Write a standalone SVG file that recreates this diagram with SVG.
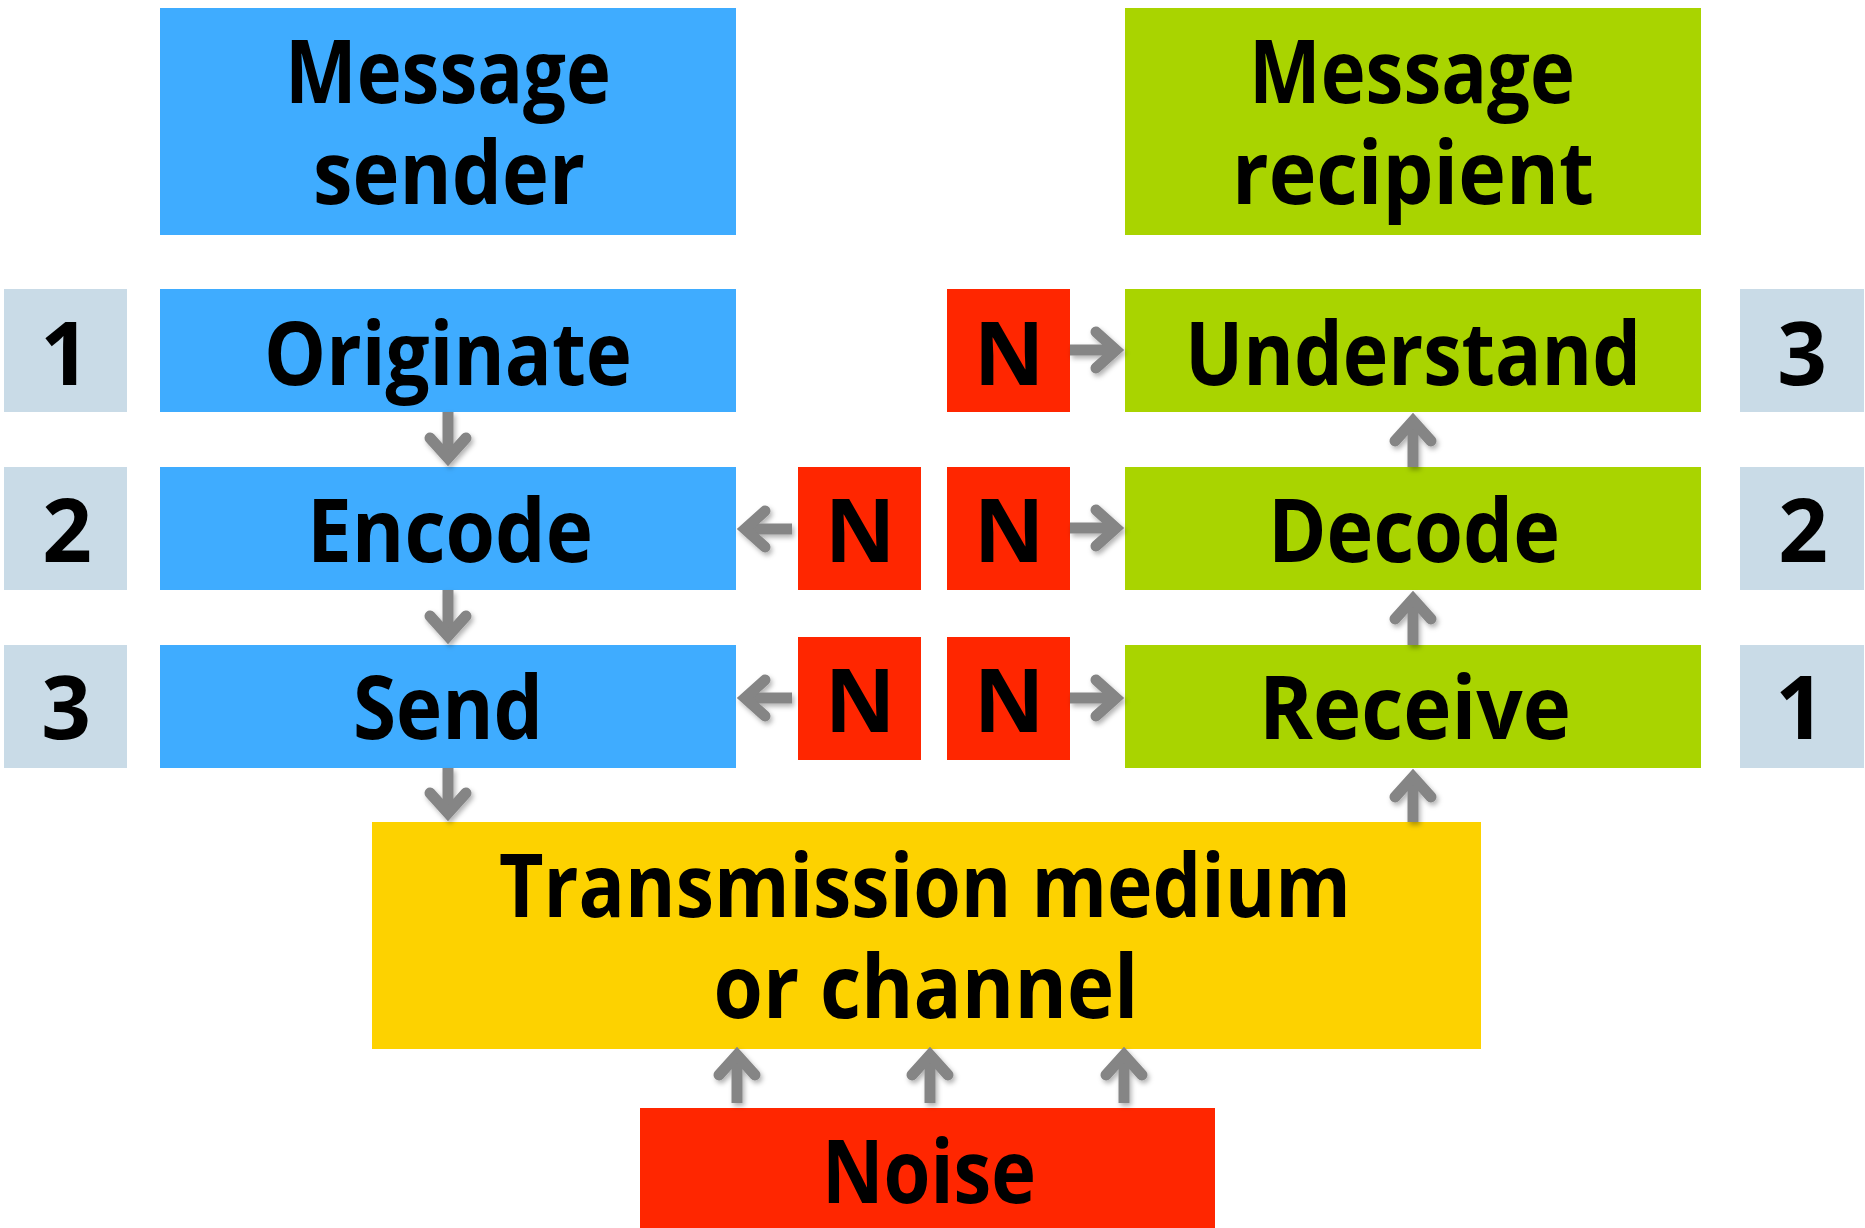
<svg xmlns="http://www.w3.org/2000/svg" width="1865" height="1228" viewBox="0 0 1865 1228">
<style>
.t{font-family:"Open Sans","Noto Sans","DejaVu Sans",sans-serif;font-weight:700;font-size:87px;text-anchor:middle;fill:#000}
.blue{fill:#3FACFF}.green{fill:#A9D400}.red{fill:#FF2600}.yellow{fill:#FDD200}.num{fill:#C9DBE7}
.sh{fill:none;stroke:#858585;stroke-width:11;stroke-linecap:butt}
.hd{fill:none;stroke:#858585;stroke-width:11;stroke-linecap:round;stroke-linejoin:miter;stroke-miterlimit:10}
</style>
<defs>
<filter id="shadow" x="-10%" y="-10%" width="120%" height="120%">
<feDropShadow dx="2" dy="3" stdDeviation="2.5" flood-color="#000" flood-opacity="0.3"/>
</filter>
</defs>
<rect width="1865" height="1228" fill="#fff"/>
<g id="sender"><rect class="blue" x="160" y="8" width="576" height="227"/><text class="t"><tspan x="448" y="103" textLength="326" lengthAdjust="spacingAndGlyphs">Message</tspan><tspan x="449" y="204" textLength="272" lengthAdjust="spacingAndGlyphs">sender</tspan></text></g>
<g id="recipient"><rect class="green" x="1125" y="8" width="576" height="227"/><text class="t"><tspan x="1412" y="103" textLength="326" lengthAdjust="spacingAndGlyphs">Message</tspan><tspan x="1413" y="204" textLength="362" lengthAdjust="spacingAndGlyphs">recipient</tspan></text></g>
<g id="num-l1"><rect class="num" x="4" y="289" width="123" height="123"/><text class="t" x="65" y="385">1</text></g>
<g id="num-l2"><rect class="num" x="4" y="467" width="123" height="123"/><text class="t" x="67" y="562">2</text></g>
<g id="num-l3"><rect class="num" x="4" y="645" width="123" height="123"/><text class="t" x="66" y="739">3</text></g>
<g id="num-r3"><rect class="num" x="1740" y="289" width="124" height="123"/><text class="t" x="1802" y="385">3</text></g>
<g id="num-r2"><rect class="num" x="1740" y="467" width="124" height="123"/><text class="t" x="1803" y="562">2</text></g>
<g id="num-r1"><rect class="num" x="1740" y="645" width="124" height="123"/><text class="t" x="1800" y="739">1</text></g>
<g id="originate"><rect class="blue" x="160" y="289" width="576" height="123"/><text class="t" x="448" y="385" textLength="368" lengthAdjust="spacingAndGlyphs">Originate</text></g>
<g id="encode"><rect class="blue" x="160" y="467" width="576" height="123"/><text class="t" x="450" y="562" textLength="286" lengthAdjust="spacingAndGlyphs">Encode</text></g>
<g id="send"><rect class="blue" x="160" y="645" width="576" height="123"/><text class="t" x="448" y="739" textLength="190" lengthAdjust="spacingAndGlyphs">Send</text></g>
<g id="understand"><rect class="green" x="1125" y="289" width="576" height="123"/><text class="t" x="1413" y="385" textLength="456" lengthAdjust="spacingAndGlyphs">Understand</text></g>
<g id="decode"><rect class="green" x="1125" y="467" width="576" height="123"/><text class="t" x="1414" y="562" textLength="292" lengthAdjust="spacingAndGlyphs">Decode</text></g>
<g id="receive"><rect class="green" x="1125" y="645" width="576" height="123"/><text class="t" x="1415" y="739" textLength="312" lengthAdjust="spacingAndGlyphs">Receive</text></g>
<g id="n-understand"><rect class="red" x="947" y="289" width="123" height="123"/><text class="t" x="1009" y="385">N</text></g>
<g id="n-encode"><rect class="red" x="798" y="467" width="123" height="123"/><text class="t" x="860" y="562">N</text></g>
<g id="n-decode"><rect class="red" x="947" y="467" width="123" height="123"/><text class="t" x="1009" y="562">N</text></g>
<g id="n-send"><rect class="red" x="798" y="637" width="123" height="123"/><text class="t" x="860" y="732">N</text></g>
<g id="n-receive"><rect class="red" x="947" y="637" width="123" height="123"/><text class="t" x="1009" y="732">N</text></g>
<g id="medium"><rect class="yellow" x="372" y="822" width="1109" height="227"/><text class="t"><tspan x="925" y="917" textLength="852" lengthAdjust="spacingAndGlyphs">Transmission medium</tspan><tspan x="926" y="1018" textLength="425" lengthAdjust="spacingAndGlyphs">or channel</tspan></text></g>
<g id="noise"><rect class="red" x="640" y="1108" width="575" height="120"/><text class="t" x="929" y="1203" textLength="214" lengthAdjust="spacingAndGlyphs">Noise</text></g>
<g id="connectors" filter="url(#shadow)">
<path class="sh" d="M448 412 V458"/><path class="hd" d="M430 438 L448 458 L466 438"/>
<path class="sh" d="M448 590 V636"/><path class="hd" d="M430 616 L448 636 L466 616"/>
<path class="sh" d="M448 768 V813"/><path class="hd" d="M430 793 L448 813 L466 793"/>
<path class="sh" d="M1413 467 V421"/><path class="hd" d="M1395 441 L1413 421 L1431 441"/>
<path class="sh" d="M1413 645 V599"/><path class="hd" d="M1395 619 L1413 599 L1431 619"/>
<path class="sh" d="M1413 822 V777"/><path class="hd" d="M1395 797 L1413 777 L1431 797"/>
<path class="sh" d="M737 1103 V1055"/><path class="hd" d="M719 1075 L737 1055 L755 1075"/>
<path class="sh" d="M930 1103 V1055"/><path class="hd" d="M912 1075 L930 1055 L948 1075"/>
<path class="sh" d="M1124 1103 V1055"/><path class="hd" d="M1106 1075 L1124 1055 L1142 1075"/>
<path class="sh" d="M1070 350 H1116"/><path class="hd" d="M1096 332 L1116 350 L1096 368"/>
<path class="sh" d="M1070 528 H1116"/><path class="hd" d="M1096 510 L1116 528 L1096 546"/>
<path class="sh" d="M1070 698 H1116"/><path class="hd" d="M1096 680 L1116 698 L1096 716"/>
<path class="sh" d="M792 529 H745"/><path class="hd" d="M765 511 L745 529 L765 547"/>
<path class="sh" d="M792 698 H745"/><path class="hd" d="M765 680 L745 698 L765 716"/>
</g>
</svg>
